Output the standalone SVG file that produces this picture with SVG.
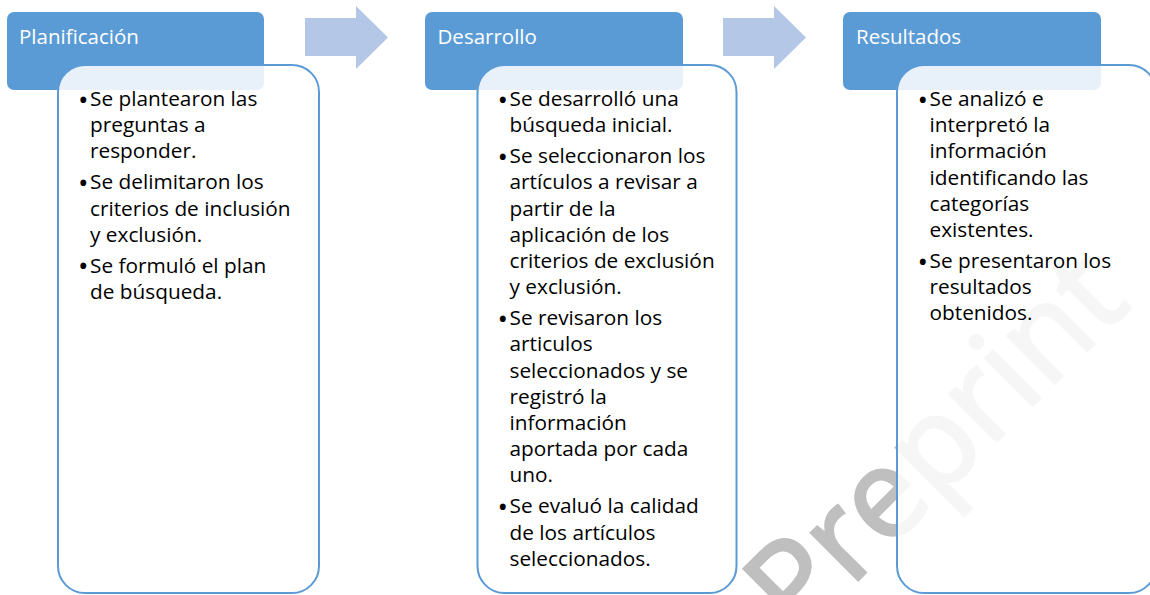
<svg xmlns="http://www.w3.org/2000/svg" width="1150" height="595" viewBox="0 0 1150 595">
<style>
.hdr{fill:#5b9bd5;}
.box{fill:#ffffff;fill-opacity:0.86;stroke:#5b9bd5;stroke-width:2;}
.ht{font-family:"Open Sans","Liberation Sans",sans-serif;font-size:20.5px;fill:#ffffff;}
.bt{font-family:"Open Sans","Liberation Sans",sans-serif;font-size:20.8px;fill:#000000;}
.bl{font-family:"Open Sans","Liberation Sans",sans-serif;font-size:28px;fill:#000000;}
.arr{fill:#b4c7e7;}
.wm{font-family:"Open Sans","Liberation Sans",sans-serif;font-size:124px;fill:#bfbfbf;stroke:#bfbfbf;stroke-width:3;}
</style>
<rect x="0" y="0" width="1150" height="595" fill="#ffffff"/>
<g id="watermark">
<text class="wm" x="0" y="0" transform="translate(798,640) rotate(-45)">Preprint</text>
</g>
<g id="connectors">
<path class="arr" d="M305,18 H356 V6 L388,37.5 L356,69 V56 H305 Z"/>
<path class="arr" d="M723,18 H774 V6 L806,37.5 L774,69 V56 H723 Z"/>
</g>
<g id="planificacion">
<rect class="hdr" x="7" y="12" width="257" height="78" rx="7"/>
<text class="ht" x="19" y="43.5">Planificación</text>
<rect class="box" x="58" y="65" width="261" height="528" rx="27"/>
<text class="bl" x="78" y="109.5">•</text>
<text class="bt" x="90" y="106">Se plantearon las</text>
<text class="bt" x="90" y="132.2">preguntas a</text>
<text class="bt" x="90" y="158.4">responder.</text>
<text class="bl" x="78" y="192.9">•</text>
<text class="bt" x="90" y="189.4">Se delimitaron los</text>
<text class="bt" x="90" y="215.6">criterios de inclusión</text>
<text class="bt" x="90" y="241.8">y exclusión.</text>
<text class="bl" x="78" y="276.3">•</text>
<text class="bt" x="90" y="272.8">Se formuló el plan</text>
<text class="bt" x="90" y="299">de búsqueda.</text>
</g>
<g id="desarrollo">
<rect class="hdr" x="425" y="12" width="258" height="78" rx="7"/>
<text class="ht" x="437.5" y="43.5">Desarrollo</text>
<rect class="box" x="477.5" y="65" width="259" height="528" rx="27"/>
<text class="bl" x="497.5" y="109.5">•</text>
<text class="bt" x="509.5" y="106">Se desarrolló una</text>
<text class="bt" x="509.5" y="132.2">búsqueda inicial.</text>
<text class="bl" x="497.5" y="166.7">•</text>
<text class="bt" x="509.5" y="163.2">Se seleccionaron los</text>
<text class="bt" x="509.5" y="189.4">artículos a revisar a</text>
<text class="bt" x="509.5" y="215.6">partir de la</text>
<text class="bt" x="509.5" y="241.8">aplicación de los</text>
<text class="bt" x="509.5" y="268">criterios de exclusión</text>
<text class="bt" x="509.5" y="294.2">y exclusión.</text>
<text class="bl" x="497.5" y="328.7">•</text>
<text class="bt" x="509.5" y="325.2">Se revisaron los</text>
<text class="bt" x="509.5" y="351.4">articulos</text>
<text class="bt" x="509.5" y="377.6">seleccionados y se</text>
<text class="bt" x="509.5" y="403.8">registró la</text>
<text class="bt" x="509.5" y="430">información</text>
<text class="bt" x="509.5" y="456.2">aportada por cada</text>
<text class="bt" x="509.5" y="482.4">uno.</text>
<text class="bl" x="497.5" y="516.9">•</text>
<text class="bt" x="509.5" y="513.4">Se evaluó la calidad</text>
<text class="bt" x="509.5" y="539.6">de los artículos</text>
<text class="bt" x="509.5" y="565.8">seleccionados.</text>
</g>
<g id="resultados">
<rect class="hdr" x="843" y="12" width="258" height="78" rx="7"/>
<text class="ht" x="856" y="43.5">Resultados</text>
<rect class="box" x="897" y="65" width="259" height="528" rx="27"/>
<text class="bl" x="917.5" y="109.5">•</text>
<text class="bt" x="929.5" y="106">Se analizó e</text>
<text class="bt" x="929.5" y="132.2">interpretó la</text>
<text class="bt" x="929.5" y="158.4">información</text>
<text class="bt" x="929.5" y="184.6">identificando las</text>
<text class="bt" x="929.5" y="210.8">categorías</text>
<text class="bt" x="929.5" y="237">existentes.</text>
<text class="bl" x="917.5" y="271.5">•</text>
<text class="bt" x="929.5" y="268">Se presentaron los</text>
<text class="bt" x="929.5" y="294.2">resultados</text>
<text class="bt" x="929.5" y="320.4">obtenidos.</text>
</g>
</svg>
